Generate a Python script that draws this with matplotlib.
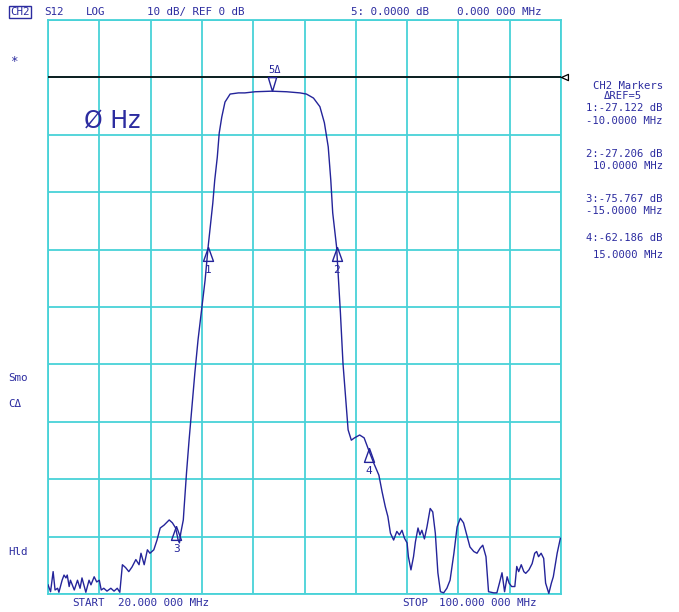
import numpy as np
import matplotlib
matplotlib.use("Agg")
import matplotlib.pyplot as plt

W, H = 679, 612
GRID = "#48d2d8"
TRACE = "#24249a"
TEXT = "#2c2ca0"
MONO = "DejaVu Sans Mono"

# S12 trace, frequency in MHz and level in dB
freq_mhz = [
    20.0, 20.4, 20.8, 21.1, 21.5, 21.7, 22.2, 22.5, 22.8, 23.0, 23.3, 23.5,
    24.1, 24.6, 25.0, 25.3, 25.9, 26.4, 26.7, 27.2, 27.6, 28.0, 28.3, 28.7,
    29.2, 29.8, 30.3, 30.8, 31.2, 31.6, 32.1, 32.6, 33.1, 33.7, 34.2, 34.5,
    35.0, 35.5, 35.9, 36.5, 37.0, 37.5, 38.1, 38.9, 39.4, 39.9, 40.3, 40.5,
    40.7, 41.1, 41.2, 41.6, 42.0, 42.4, 42.9, 43.4, 44.0, 44.5, 45.0, 45.3,
    45.7, 46.0, 46.4, 46.7, 47.1, 47.6, 48.4, 49.7, 50.7, 52.3, 54.9, 57.2,
    59.3, 60.3, 61.4, 62.4, 63.1, 63.7, 64.1, 64.4, 65.0, 65.3, 65.6, 66.0,
    66.4, 66.8, 67.3, 67.8, 68.6, 69.3, 70.0, 70.8, 71.6, 72.1, 72.6, 73.0,
    73.4, 73.9, 74.4, 74.8, 75.2, 75.6, 76.0, 76.2, 76.6, 77.0, 77.3, 77.7,
    78.0, 78.3, 78.7, 79.1, 79.6, 80.0, 80.4, 80.8, 81.2, 81.7, 82.2, 82.7,
    83.3, 83.8, 84.3, 84.8, 85.3, 85.8, 86.4, 86.9, 87.4, 87.8, 88.3, 88.7,
    89.5, 90.0, 90.4, 90.8, 91.2, 91.6, 91.9, 92.3, 92.8, 93.1, 93.4, 93.8,
    94.2, 94.5, 95.0, 95.5, 95.9, 96.2, 96.5, 96.9, 97.3, 97.6, 98.1, 98.5,
    98.8, 99.4, 99.9,
]
s12_db = [
    -88.4, -89.6, -86.1, -89.3, -89.0, -89.7, -87.6, -86.7, -87.2, -86.7, -88.7, -87.6,
    -89.3, -87.6, -89.0, -87.2, -89.7, -87.6, -88.4, -87.0, -87.9, -87.6, -89.3, -89.0,
    -89.5, -89.0, -89.5, -89.0, -89.7, -84.9, -85.4, -86.1, -85.3, -84.0, -84.9, -82.9,
    -84.9, -82.3, -82.9, -82.3, -80.6, -78.5, -78.0, -77.1, -77.6, -78.5, -80.6, -81.1,
    -79.4, -77.1, -75.4, -68.9, -63.2, -57.9, -51.5, -45.7, -40.0, -35.3, -29.2, -26.1,
    -21.9, -17.9, -13.9, -9.7, -6.9, -4.3, -2.9, -2.7, -2.7, -2.5, -2.4, -2.5,
    -2.7, -2.9, -3.6, -5.1, -7.9, -12.1, -17.9, -23.6, -29.5, -35.3, -41.0, -49.8,
    -55.6, -61.4, -63.2, -62.8, -62.3, -62.8, -64.9, -67.2, -69.3, -72.2, -74.8, -76.5,
    -79.4, -80.6, -79.1, -79.7, -78.9, -80.3, -81.1, -83.5, -85.8, -83.5, -80.9, -78.5,
    -79.7, -78.9, -80.4, -78.3, -75.1, -75.7, -79.4, -86.3, -89.6, -89.8, -89.0, -87.6,
    -82.9, -78.3, -76.8, -77.6, -79.7, -81.8, -82.6, -82.9, -82.0, -81.5, -83.5, -89.6,
    -89.8, -89.8, -88.1, -86.3, -89.6, -87.0, -88.1, -88.7, -88.7, -85.2, -86.1, -84.9,
    -86.1, -86.4, -85.8, -84.7, -82.9, -82.6, -83.5, -82.9, -83.8, -88.1, -89.9, -88.1,
    -87.0, -82.9, -80.3,
]

# delta markers relative to marker 5
ref_freq = 55.0
ref_db = -2.4
marker_ids = [1, 2, 3, 4]
marker_delta_db = [-27.122, -27.206, -75.767, -62.186]
marker_offset_mhz = [-10.0, 10.0, -15.0, 15.0]

UP_TRI = [(0, 0), (-0.36, -1), (0.36, -1), (0, 0)]
DOWN_TRI = [(0, 0), (-0.3, 1), (0.3, 1), (0, 0)]
LEFT_TRI = [(0, 0), (1, -0.45), (1, 0.45), (0, 0)]


def ftext(x, y, s, **kw):
    opts = dict(family=MONO, fontsize=7.8, color=TEXT, va="center", ha="left")
    opts.update(kw)
    return plt.gcf().text(x / W, 1 - y / H, s, **opts)


def draw_trace(ax):
    ax.set_xlim(20, 100)
    ax.set_ylim(-90, 10)
    ax.set_xticks(np.linspace(20, 100, 11))
    ax.set_yticks(np.arange(-90, 11, 10))
    ax.tick_params(length=0, labelbottom=False, labelleft=False)
    ax.grid(True, color=GRID, lw=1.3)
    for sp in ax.spines.values():
        sp.set_color(GRID)
        sp.set_linewidth(1.3)

    # reference line at 0 dB
    ax.axhline(0, color="black", lw=1.2, zorder=3)
    ax.plot([100], [0], marker=LEFT_TRI, ms=10, mfc="white", mec="black",
            mew=0.9, clip_on=False, zorder=4)

    ax.plot(freq_mhz, s12_db, color=TRACE, lw=1.0, zorder=5)

    for i, d, o in zip(marker_ids, marker_delta_db, marker_offset_mhz):
        f, lvl = ref_freq + o, ref_db + d
        ax.plot([f], [lvl], marker=UP_TRI, ms=20, mfc="none", mec=TRACE,
                mew=1.0, ls="none", zorder=6)
        ax.annotate(str(i), (f, lvl), xytext=(0, -16.5), textcoords="offset points",
                    ha="center", va="center", fontsize=8, color=TRACE, family=MONO)

    ax.plot([ref_freq], [ref_db], marker=DOWN_TRI, ms=20, mfc="none", mec=TRACE,
            mew=1.0, ls="none", zorder=6)
    ax.annotate("5\u0394", (ref_freq, ref_db), xytext=(1.5, 15.5),
                textcoords="offset points", ha="center", va="center",
                fontsize=7.5, color=TRACE, family=MONO)


def draw_labels():
    ftext(10, 12, "CH2", bbox=dict(boxstyle="square,pad=0.12", fc="white",
                                   ec=TEXT, lw=1.0))
    ftext(44, 12, "S12")
    ftext(86, 12, "LOG")
    ftext(147, 12, "10 dB/ REF 0 dB")
    ftext(351, 12, "5: 0.0000 dB")
    ftext(457, 12, "0.000 000 MHz")

    ftext(10, 62, "*", fontsize=9)
    ftext(8, 378, "Smo")
    ftext(8, 404, "C\u0394")
    ftext(8, 552, "Hld")

    ftext(72, 603, "START")
    ftext(118, 603, "20.000 000 MHz")
    ftext(402, 603, "STOP")
    ftext(439, 603, "100.000 000 MHz")

    ftext(84, 121, "\u00d8 Hz", family="DejaVu Sans", fontsize=17)

    ftext(663, 86, "CH2 Markers", ha="right", fontsize=7.6)
    ftext(623, 96, "\u0394REF=5", ha="center", fontsize=7.6)
    ys = [(108, 121), (154, 166), (199, 211), (238, 255)]
    for (y1, y2), i, d, o in zip(ys, marker_ids, marker_delta_db, marker_offset_mhz):
        ftext(663, y1, f"{i}:{d:.3f} dB", ha="right", fontsize=7.6)
        ftext(663, y2, f"{o:.4f} MHz", ha="right", fontsize=7.6)


def main():
    fig = plt.figure(figsize=(W / 100, H / 100), dpi=100)
    fig.patch.set_facecolor("white")
    ax = fig.add_axes([48 / W, 18 / H, 513 / W, 574 / H])
    draw_trace(ax)
    draw_labels()
    fig.savefig("out.png", dpi=100)


if __name__ == "__main__":
    main()
